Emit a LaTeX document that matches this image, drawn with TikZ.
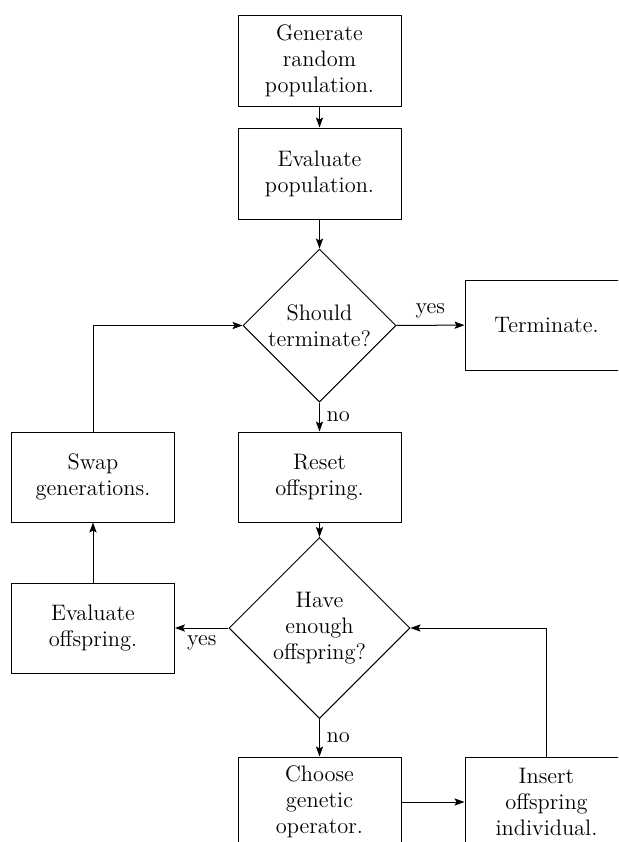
\documentclass[tikz,border=0pt]{standalone}
\usetikzlibrary{shapes.geometric,arrows.meta}
\begin{document}
\begin{tikzpicture}[x=0.5pt,y=-0.5pt,
  every node/.style={font=\fontsize{11.2}{13.1}\selectfont},
  box/.style={draw,rectangle,minimum width=81.5pt,minimum height=45pt,inner sep=0pt,align=center,line width=0.5pt},
  decide/.style={draw,diamond,aspect=1,inner sep=0pt,align=center,line width=0.5pt},
  arr/.style={-{Stealth[length=5pt,width=3.6pt,inset=1pt]},line width=0.5pt},
  lbl/.style={font=\fontsize{11.2}{13.1}\selectfont}]
\useasboundingbox (0,0) rectangle (618,842);
\clip (0,0) rectangle (618,842);
\node[box,minimum height=45.5pt] (gen) at (319.5,60.5) {Generate\\random\\population.};
\node[box,minimum height=45.5pt] (eval) at (319.5,173.5) {Evaluate\\population.};
\node[decide,minimum width=76.5pt,minimum height=76.5pt] (d1) at (319.5,325.5) {Should\\terminate?};
\node[box] (term) at (546.5,325) {Terminate.};
\node[box] (reset) at (319.5,477) {Reset\\offspring.};
\node[box] (swap) at (93,477) {Swap\\generations.};
\node[decide,minimum width=90.5pt,minimum height=90.5pt] (d2) at (319.5,628) {Have\\enough\\offspring?};
\node[box] (evoff) at (93,628) {Evaluate\\offspring.};
\node[box] (choose) at (319.5,802) {Choose\\genetic\\operator.};
\node[box] (insert) at (546.5,802) {Insert\\offspring\\individual.};
\draw[arr] (gen) -- (eval);
\draw[arr] (eval) -- (d1);
\draw[arr] (d1) -- node[lbl,above] {yes} (term);
\draw[arr] (d1) -- node[lbl,right] {no} (reset);
\draw[arr] (reset) -- (d2);
\draw[arr] (d2) -- node[lbl,below] {yes} (evoff);
\draw[arr] (d2) -- node[lbl,right] {no} (choose);
\draw[arr] (evoff) -- (swap);
\draw[arr] (swap.north) |- (d1.west);
\draw[arr] (choose) -- (insert);
\draw[arr] (insert.north) |- (d2.east);
\end{tikzpicture}
\end{document}
